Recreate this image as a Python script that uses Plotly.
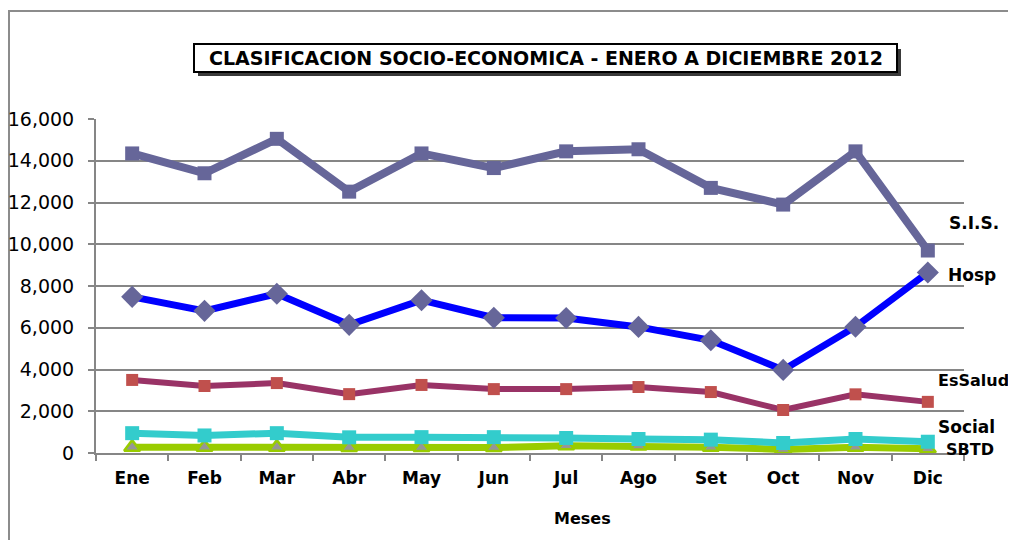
import plotly.graph_objects as go

months = ["Ene", "Feb", "Mar", "Abr", "May", "Jun", "Jul", "Ago", "Set", "Oct", "Nov", "Dic"]
sis = [14350, 13400, 15050, 12520, 14350, 13650, 14450, 14550, 12700, 11900, 14450, 9700]
hosp = [7480, 6810, 7630, 6140, 7320, 6480, 6470, 6040, 5400, 3980, 6050, 8650]
essalud = [3500, 3210, 3350, 2820, 3260, 3060, 3060, 3160, 2920, 2060, 2810, 2450]
social = [950, 840, 950, 750, 760, 760, 720, 670, 640, 480, 670, 540]
sbtd = [280, 280, 280, 260, 260, 260, 350, 330, 280, 170, 280, 200]
yticks = [0, 2000, 4000, 6000, 8000, 10000, 12000, 14000, 16000]
title_text = "CLASIFICACION SOCIO-ECONOMICA - ENERO A DICIEMBRE 2012"
series_labels = ["S.I.S.", "Hosp", "EsSalud", "Social", "SBTD"]

# page offset (body margin) compensation
OFF = 8
W, H = 1016 - OFF, 540 - OFF
# plot area in page pixels
PL, PR, PT, PB = 96, 964, 119, 453


def px(x):
    return (x - PL) / (PR - PL)


def py(y):
    return (PB - y) / (PB - PT)


fig = go.Figure()
fig.add_trace(go.Scatter(x=months, y=sbtd, mode="lines+markers", name="SBTD",
                         line=dict(color="#99CC00", width=7),
                         marker=dict(symbol="triangle-up", size=14, color="#969696",
                                     line=dict(color="#99CC00", width=2.5))))
fig.add_trace(go.Scatter(x=months, y=social, mode="lines+markers", name="Social",
                         line=dict(color="#33CCCC", width=7),
                         marker=dict(symbol="square", size=14, color="#33CCCC")))
fig.add_trace(go.Scatter(x=months, y=essalud, mode="lines+markers", name="EsSalud",
                         line=dict(color="#993366", width=6),
                         marker=dict(symbol="square", size=12, color="#C0504D")))
fig.add_trace(go.Scatter(x=months, y=hosp, mode="lines+markers", name="Hosp",
                         line=dict(color="#0000FF", width=7),
                         marker=dict(symbol="diamond", size=17, color="#666699")))
fig.add_trace(go.Scatter(x=months, y=sis, mode="lines+markers", name="S.I.S.",
                         line=dict(color="#666699", width=8),
                         marker=dict(symbol="square", size=14, color="#666699")))

shapes = [
    # outer chart border
    dict(type="rect", xref="paper", yref="paper", x0=px(9), x1=px(1040), y0=py(11), y1=py(560),
         line=dict(color="#8C8C8C", width=2), fillcolor="rgba(0,0,0,0)", layer="below"),
    # title shadow
    dict(type="rect", xref="paper", yref="paper", x0=px(198), x1=px(901), y0=py(49), y1=py(76),
         line=dict(width=0), fillcolor="#3A3A3A", layer="above"),
    # title box
    dict(type="rect", xref="paper", yref="paper", x0=px(194), x1=px(897), y0=py(44), y1=py(72),
         line=dict(color="black", width=2), fillcolor="white", layer="above"),
]

annotations = [
    dict(text="<b>" + title_text + "</b>", xref="paper", yref="paper", x=px(545.5), y=py(58),
         showarrow=False, xanchor="center", yanchor="middle",
         font=dict(family="DejaVu Sans", size=19, color="black")),
    dict(text="<b>Meses</b>", xref="paper", yref="paper", x=px(582), y=py(518),
         showarrow=False, xanchor="center", yanchor="middle",
         font=dict(family="DejaVu Sans", size=16, color="black")),
]
label_pos = [(974, 223), (972, 275), (974, 380), (967, 427), (970, 449)]
label_size = [17, 17, 16, 17, 16]
for lab, (lx, ly), ls in zip(series_labels, label_pos, label_size):
    annotations.append(dict(text="<b>" + lab + "</b>", xref="paper", yref="paper",
                            x=px(lx), y=py(ly), showarrow=False, xanchor="center",
                            yanchor="middle",
                            font=dict(family="DejaVu Sans", size=ls, color="black")))

fig.update_layout(
    width=W, height=H,
    margin=dict(l=PL - OFF, r=1016 - PR, t=PT - OFF, b=540 - PB, pad=0, autoexpand=False),
    paper_bgcolor="white", plot_bgcolor="white",
    showlegend=False,
    shapes=shapes, annotations=annotations,
    xaxis=dict(type="category", range=[-0.5, 11.5], showgrid=False, automargin=False,
               showline=True, linecolor="#868686", linewidth=2,
               ticks="outside", tickson="boundaries", ticklen=6, tickcolor="#868686", tickwidth=2,
               tickfont=dict(family="DejaVu Sans", size=17, color="black", weight="bold"),
               ticklabelstandoff=9, fixedrange=True),
    yaxis=dict(range=[0, 16000], tickvals=yticks, tickformat=",d", automargin=False,
               showgrid=True, gridcolor="#868686", gridwidth=2,
               showline=True, linecolor="#868686", linewidth=2,
               ticks="outside", ticklen=6, tickcolor="#868686", tickwidth=2,
               tickfont=dict(family="DejaVu Sans", size=19, color="black"),
               ticklabelstandoff=10, zeroline=False, fixedrange=True),
)

fig.write_html("out.html")
